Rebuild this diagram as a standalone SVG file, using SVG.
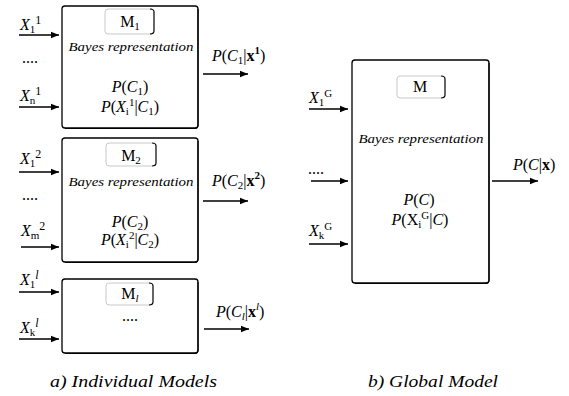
<svg xmlns="http://www.w3.org/2000/svg" width="569" height="396" viewBox="0 0 569 396" font-family="'Liberation Serif', 'DejaVu Serif', serif">
<style>
text{font-family:"Liberation Serif","DejaVu Serif",serif;fill:#000}
.m{font-size:16px}
.i{font-style:italic}
.b{font-size:13px;font-style:italic}
.cap{font-size:16px;font-style:italic}
.box{fill:#fff;stroke:#000;stroke-width:1.3}
.sh{fill:none;stroke:#000;stroke-width:1.2}
.tab{fill:none;stroke:#bbb;stroke-width:0.8}
.tabr{fill:none;stroke:#000;stroke-width:1.2}
.arr{stroke:#000;stroke-width:1.5;fill:none;marker-end:url(#ah)}
.s{font-size:11px}
.sp{font-size:12px}
</style>
<defs>
<marker id="ah" viewBox="0 0 10 10" refX="10" refY="5" markerWidth="8" markerHeight="8" markerUnits="userSpaceOnUse" orient="auto">
<path d="M0,1 L10,5 L0,9 z" fill="#000"/>
</marker>
</defs>

<g id="connectors">
<line class="arr" x1="19" y1="35" x2="59" y2="35"/>
<line class="arr" x1="19" y1="107" x2="59" y2="107"/>
<line class="arr" x1="203" y1="74" x2="248" y2="74"/>
<line class="arr" x1="19" y1="172" x2="59" y2="172"/>
<line class="arr" x1="21" y1="247" x2="59" y2="247"/>
<line class="arr" x1="203" y1="201" x2="248" y2="201"/>
<line class="arr" x1="19" y1="292" x2="59" y2="292"/>
<line class="arr" x1="19" y1="339" x2="59" y2="339"/>
<line class="arr" x1="204" y1="329" x2="249" y2="329"/>
<line class="arr" x1="309" y1="109" x2="348" y2="109"/>
<line class="arr" x1="311" y1="181" x2="348" y2="181"/>
<line class="arr" x1="309" y1="244" x2="348" y2="244"/>
<line class="arr" x1="492" y1="181" x2="538" y2="181"/>
</g>

<g id="inputs-1">
<text class="m i" x="20" y="30">X<tspan class="s" dy="3" font-style="normal">1</tspan><tspan class="sp" dy="-9" font-style="normal">1</tspan></text>
<text class="m" x="22" y="63">....</text>
<text class="m i" x="20" y="101">X<tspan class="s" dy="3" font-style="normal">n</tspan><tspan class="sp" dy="-9" font-style="normal">1</tspan></text>
</g>
<g id="model1">
<rect class="box" x="62" y="6" width="136" height="122" rx="3"/>
<path class="sh" d="M198,9 V125 Q198,128.5 195,128.5 H65"/>
<path class="tab" d="M152,9 H108 Q105,9 105,12 V31 Q105,34 108,34 H152"/>
<path class="tabr" d="M150,9 Q154,9 154,12 V31 Q154,34 150,34"/>
<text class="m" x="130" y="27" text-anchor="middle">M<tspan class="s" dy="3">1</tspan></text>
<text class="b" x="131" y="51" text-anchor="middle" textLength="125" lengthAdjust="spacingAndGlyphs">Bayes representation</text>
<text class="m" x="130" y="92" text-anchor="middle"><tspan class="i">P</tspan>(<tspan class="i">C</tspan><tspan class="s" dy="3">1</tspan><tspan dy="-3">)</tspan></text>
<text class="m" x="130" y="112" text-anchor="middle"><tspan class="i">P</tspan>(<tspan class="i">X</tspan><tspan class="s" dy="3">i</tspan><tspan class="s" dy="-9">1</tspan><tspan dy="6">|</tspan><tspan class="i">C</tspan><tspan class="s" dy="3">1</tspan><tspan dy="-3">)</tspan></text>
</g>
<text id="out1" class="m" x="212" y="61"><tspan class="i">P</tspan>(<tspan class="i">C</tspan><tspan class="s" dy="3">1</tspan><tspan dy="-3">|</tspan><tspan font-weight="bold">x</tspan><tspan class="s" dy="-7" font-weight="bold">1</tspan><tspan dy="7">)</tspan></text>

<g id="inputs-2">
<text class="m i" x="20" y="164">X<tspan class="s" dy="3" font-style="normal">1</tspan><tspan class="sp" dy="-9" font-style="normal">2</tspan></text>
<text class="m" x="22" y="200">....</text>
<text class="m i" x="21" y="236">X<tspan class="s" dy="3" font-style="normal">m</tspan><tspan class="sp" dy="-9" font-style="normal">2</tspan></text>
</g>
<g id="model2">
<rect class="box" x="62" y="138" width="136" height="124" rx="3"/>
<path class="sh" d="M198,141 V259 Q198,262.5 195,262.5 H65"/>
<path class="tab" d="M152,143 H109 Q106,143 106,146 V163 Q106,166 109,166 H152"/>
<path class="tabr" d="M152,143 Q156,143 156,146 V163 Q156,166 152,166"/>
<text class="m" x="131" y="161" text-anchor="middle">M<tspan class="s" dy="3">2</tspan></text>
<text class="b" x="131" y="186" text-anchor="middle" textLength="125" lengthAdjust="spacingAndGlyphs">Bayes representation</text>
<text class="m" x="130" y="227" text-anchor="middle"><tspan class="i">P</tspan>(<tspan class="i">C</tspan><tspan class="s" dy="3">2</tspan><tspan dy="-3">)</tspan></text>
<text class="m" x="130" y="245" text-anchor="middle"><tspan class="i">P</tspan>(<tspan class="i">X</tspan><tspan class="s" dy="3">i</tspan><tspan class="s" dy="-9">2</tspan><tspan dy="6">|</tspan><tspan class="i">C</tspan><tspan class="s" dy="3">2</tspan><tspan dy="-3">)</tspan></text>
</g>
<text id="out2" class="m" x="212" y="186"><tspan class="i">P</tspan>(<tspan class="i">C</tspan><tspan class="s" dy="3">2</tspan><tspan dy="-3">|</tspan><tspan font-weight="bold">x</tspan><tspan class="s" dy="-7" font-weight="bold">2</tspan><tspan dy="7">)</tspan></text>

<g id="inputs-l">
<text class="m i" x="20" y="285">X<tspan class="s" dy="3" font-style="normal">1</tspan><tspan class="sp" dy="-9">l</tspan></text>
<text class="m i" x="20" y="333">X<tspan class="s" dy="3" font-style="normal">k</tspan><tspan class="sp" dy="-9">l</tspan></text>
</g>
<g id="model-l">
<rect class="box" x="62" y="279" width="136" height="74" rx="3"/>
<path class="sh" d="M198,282 V350 Q198,353.5 195,353.5 H65"/>
<path class="tab" d="M150,283 H109 Q106,283 106,286 V302 Q106,305 109,305 H150"/>
<path class="tabr" d="M149,283 Q153,283 153,286 V302 Q153,305 149,305"/>
<text class="m" x="130" y="299" text-anchor="middle">M<tspan class="s i" dy="3">l</tspan></text>
<text class="m" x="130" y="321" text-anchor="middle">....</text>
</g>
<text id="out-l" class="m" x="216" y="317"><tspan class="i">P</tspan>(<tspan class="i">C</tspan><tspan class="s i" dy="3">l</tspan><tspan dy="-3">|</tspan><tspan font-weight="bold">x</tspan><tspan class="s i" dy="-7">l</tspan><tspan dy="7">)</tspan></text>

<g id="inputs-g">
<text class="m i" x="309" y="103">X<tspan class="s" dy="3" font-style="normal">1</tspan><tspan dy="-9" font-size="11" font-style="normal">G</tspan></text>
<text class="m" x="308" y="174">....</text>
<text class="m i" x="309" y="236">X<tspan class="s" dy="3" font-style="normal">k</tspan><tspan dy="-9" font-size="11" font-style="normal">G</tspan></text>
</g>
<g id="model-g">
<rect class="box" x="352" y="60" width="137" height="223" rx="3"/>
<path class="sh" d="M489,63 V280 Q489,283.5 486,283.5 H355"/>
<path class="tab" d="M441,76 H400 Q397,76 397,79 V95 Q397,98 400,98 H441"/>
<path class="tabr" d="M441,76 Q445,76 445,79 V95 Q445,98 441,98"/>
<text class="m" x="420" y="92" text-anchor="middle">M</text>
<text class="b" x="421" y="143" text-anchor="middle" textLength="125" lengthAdjust="spacingAndGlyphs">Bayes representation</text>
<text class="m" x="419" y="205" text-anchor="middle"><tspan class="i">P</tspan>(<tspan class="i">C</tspan>)</text>
<text class="m" x="420" y="225" text-anchor="middle"><tspan class="i">P</tspan>(X<tspan class="s" dy="3">i</tspan><tspan class="s" dy="-9">G</tspan><tspan dy="6">|</tspan><tspan class="i">C</tspan>)</text>
</g>
<text id="out-g" class="m" x="513" y="170"><tspan class="i">P</tspan>(<tspan class="i">C</tspan>|<tspan font-weight="bold">x</tspan>)</text>

<text class="cap" x="50" y="387" textLength="167" lengthAdjust="spacingAndGlyphs">a) Individual Models</text>
<text class="cap" x="368" y="387" textLength="130" lengthAdjust="spacingAndGlyphs">b) Global Model</text>
</svg>
